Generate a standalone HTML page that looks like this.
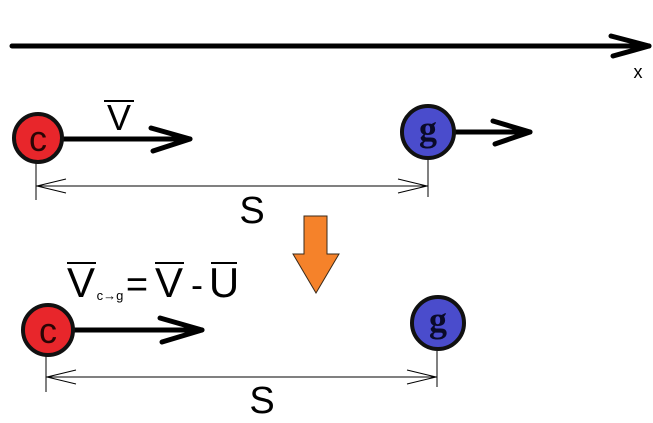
<!DOCTYPE html>
<html><head><meta charset="utf-8"><style>
html,body{margin:0;padding:0;background:#fff;width:653px;height:423px;overflow:hidden}
svg{display:block}
text{font-family:"Liberation Sans",sans-serif}
</style></head><body>
<svg width="653" height="423" viewBox="0 0 653 423" xmlns="http://www.w3.org/2000/svg">
<g stroke="#000" stroke-linecap="round" fill="none">
  <line x1="12" y1="46" x2="649" y2="46" stroke-width="5"/>
  <polyline points="611,36 649,46 613,56" stroke-width="5" stroke-linejoin="round"/>
  <line x1="62" y1="139" x2="190" y2="139" stroke-width="5"/>
  <polyline points="151,128 190,139 153,151" stroke-width="5" stroke-linejoin="round"/>
  <line x1="455" y1="132" x2="530" y2="132" stroke-width="5"/>
  <polyline points="493,121 530,132 495,144" stroke-width="5" stroke-linejoin="round"/>
  <line x1="73" y1="330" x2="202" y2="330" stroke-width="5"/>
  <polyline points="160,318 202,330 162,342" stroke-width="5" stroke-linejoin="round"/>
</g>
<g stroke="#000" stroke-width="1" fill="none">
  <line x1="36" y1="162" x2="36" y2="200"/>
  <line x1="428" y1="159" x2="428" y2="197"/>
  <line x1="36" y1="186" x2="428" y2="186"/>
  <polyline points="66,179 37,186 66,193"/>
  <polyline points="398,179 427,186 398,193"/>
  <line x1="46" y1="356" x2="46" y2="392"/>
  <line x1="437" y1="351" x2="437" y2="387"/>
  <line x1="46" y1="377" x2="437" y2="377"/>
  <polyline points="76,370 47,377 76,384"/>
  <polyline points="407,370 436,377 407,384"/>
</g>
<circle cx="38" cy="138" r="24" fill="#e8262b" stroke="#111" stroke-width="4"/>
<circle cx="428" cy="132" r="26" fill="#4a4ccc" stroke="#111" stroke-width="4"/>
<circle cx="48" cy="330" r="25" fill="#e8262b" stroke="#111" stroke-width="4"/>
<circle cx="438" cy="323" r="26" fill="#4a4ccc" stroke="#111" stroke-width="4"/>
<text x="38" y="151" font-size="36" text-anchor="middle" fill="#2a0505">c</text>
<text x="48" y="343" font-size="36" text-anchor="middle" fill="#2a0505">c</text>
<text x="428" y="141" font-size="36" font-weight="bold" text-anchor="middle" fill="#0a0a28" style="font-family:'Liberation Serif',serif">g</text>
<text x="438" y="332" font-size="36" font-weight="bold" text-anchor="middle" fill="#0a0a28" style="font-family:'Liberation Serif',serif">g</text>
<polygon points="304,216 327,216 327,254 339,254 316,293 293,254 304,254" fill="#f5822a" stroke="#3a2a1a" stroke-width="1"/>
<text x="638" y="78" font-size="18" text-anchor="middle">x</text>
<text x="119" y="130" font-size="36" text-anchor="middle">V</text>
<line x1="104" y1="101" x2="134" y2="101" stroke="#000" stroke-width="2"/>
<text x="252" y="223" font-size="38" text-anchor="middle">S</text>
<text x="262" y="413" font-size="38" text-anchor="middle">S</text>
<text x="81" y="297" font-size="42" text-anchor="middle">V</text>
<line x1="67" y1="263" x2="96" y2="263" stroke="#000" stroke-width="2"/>
<text x="110" y="300" font-size="13" text-anchor="middle">c→g</text>
<text x="137" y="297" font-size="38" text-anchor="middle">=</text>
<text x="169" y="297" font-size="42" text-anchor="middle">V</text>
<line x1="155" y1="263" x2="184" y2="263" stroke="#000" stroke-width="2"/>
<text x="197" y="297" font-size="36" text-anchor="middle">-</text>
<text x="224" y="297" font-size="42" text-anchor="middle">U</text>
<line x1="211" y1="263" x2="237" y2="263" stroke="#000" stroke-width="2"/>
</svg>
</body></html>
